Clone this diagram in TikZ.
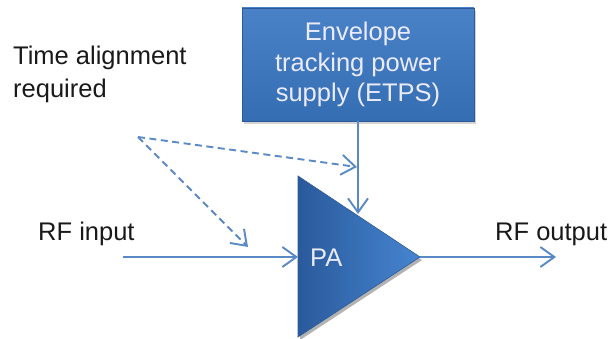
\documentclass[tikz,border=0pt]{standalone}
\usepackage{fontspec}
\setmainfont{Liberation Sans}
\usetikzlibrary{arrows.meta,shadows,calc}
\definecolor{lineblue}{HTML}{5A8AC6}
\definecolor{boxblue}{HTML}{3A77C2}
\definecolor{boxdark}{HTML}{2B5A96}
\definecolor{triL}{HTML}{2A5A9C}
\definecolor{triR}{HTML}{4685D0}
\tikzset{
  lbl/.style={font=\fontsize{25.5}{33}\selectfont, text=black!90, inner sep=0pt},
  wlbl/.style={font=\fontsize{25.5}{30.5}\selectfont, text=white!92!blue, inner sep=0pt},
  conn/.style={draw=lineblue, line width=1.9pt, -{Straight Barb[length=14pt,width=20pt,line width=1.9pt]}},
  dconn/.style={conn, dash pattern=on 7pt off 4.5pt},
  etpsbox/.style={rectangle, minimum width=232pt, minimum height=113pt, inner sep=0pt,
    top color=boxblue!92!white, bottom color=boxblue!92!black, draw=boxdark, line width=0.8pt,
    drop shadow={opacity=0.35, shadow xshift=2pt, shadow yshift=-3pt}},
}
\begin{document}
\begin{tikzpicture}[x=1pt,y=-1pt]
\useasboundingbox (0,0) rectangle (610,339);
% triangle (PA)
\coordinate (tl) at (298,176);
\coordinate (tb) at (298,337);
\coordinate (tapex) at (420,257);
\coordinate (tin) at (298,257);
\coordinate (ttop) at (358,214);
\fill[black, opacity=0.3] ($(tl)+(2,3)$) -- ($(tapex)+(2,3)$) -- ($(tb)+(2,3)$) -- cycle;
\shade[left color=triL, right color=triR, draw=boxdark, line width=0.6pt] (tl) -- (tapex) -- (tb) -- cycle;
\node[wlbl, anchor=base west] (pa) at (310,266) {PA};
% ETPS box
\node[etpsbox, wlbl, align=center] (etps) at (358,64.5) {Envelope\\tracking power\\supply (ETPS)};
% labels
\node[lbl, anchor=base west, align=left] (time) at (13,98) {Time alignment\\required};
\node[lbl, anchor=base west] (rfin) at (38,240) {RF input};
\node[lbl, anchor=base west] (rfout) at (495,240) {RF output};
% connectors
\coordinate (instart) at (123,257);
\coordinate (outend) at (556,257);
\coordinate (dsrc) at (138,137);
\coordinate (dtop) at (357,167);
\coordinate (dleft) at (248,247);
\draw[conn] (instart) -- (tin);
\draw[conn] (tapex) -- (outend);
\draw[conn] (etps.south) -- (ttop);
\draw[dconn] (dsrc) -- (dtop);
\draw[dconn] (dsrc) -- (dleft);
\end{tikzpicture}
\end{document}
